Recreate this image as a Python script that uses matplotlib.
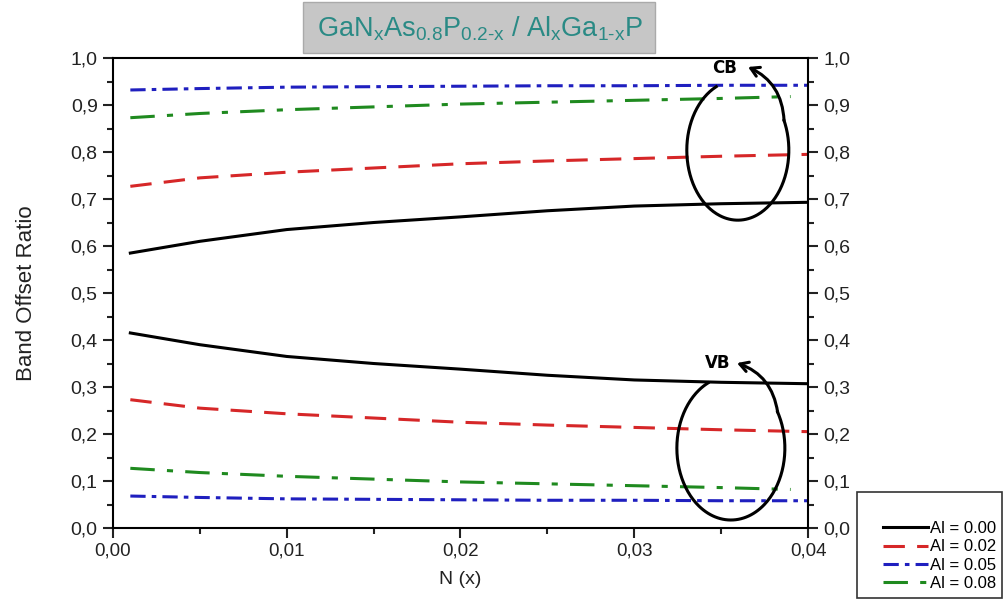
import numpy as np
import matplotlib
matplotlib.use("Agg")
import matplotlib.pyplot as plt
from matplotlib.patches import Rectangle
from matplotlib.ticker import MultipleLocator, FuncFormatter

plt.rcParams['font.family'] = ['Liberation Sans', 'DejaVu Sans']
plt.rcParams['mathtext.fontset'] = 'custom'
plt.rcParams['mathtext.rm'] = 'Liberation Sans'

# nitrogen content and band offset ratios (CB upper branch, VB lower branch)
n_x = [0.001, 0.005, 0.010, 0.015, 0.020, 0.025, 0.030, 0.035, 0.040]
cb_al000 = [0.585, 0.610, 0.635, 0.650, 0.662, 0.675, 0.685, 0.690, 0.693]
cb_al002 = [0.727, 0.745, 0.757, 0.766, 0.775, 0.781, 0.786, 0.791, 0.795]
cb_al005 = [0.932, 0.935, 0.938, 0.939, 0.940, 0.941, 0.941, 0.942, 0.942]
cb_al008 = [0.873, 0.882, 0.890, 0.896, 0.902, 0.906, 0.910, 0.914, 0.918]
vb_al000 = [0.415, 0.390, 0.365, 0.350, 0.338, 0.325, 0.315, 0.310, 0.307]
vb_al002 = [0.273, 0.255, 0.243, 0.234, 0.225, 0.219, 0.214, 0.209, 0.205]
vb_al005 = [0.068, 0.065, 0.062, 0.061, 0.060, 0.059, 0.059, 0.058, 0.058]
vb_al008 = [0.127, 0.118, 0.110, 0.104, 0.098, 0.094, 0.090, 0.086, 0.082]

labels = ['Al = 0.00', 'Al = 0.02', 'Al = 0.05', 'Al = 0.08']
colors = ['black', '#d62728', '#1f1fbf', '#1f8a1f']
styles = ['-', (0, (7, 4)), (0, (5, 2, 1.5, 2)), (0, (8, 4, 2, 4))]

fig = plt.figure(figsize=(10.05, 6.0), dpi=100)
ax = fig.add_axes([0.1124, 0.12, 0.6916, 0.7833])

cb = [cb_al000, cb_al002, cb_al005, cb_al008]
vb = [vb_al000, vb_al002, vb_al005, vb_al008]
handles = []
for i in range(4):
    xs = n_x if i != 3 else n_x[:-1] + [0.039]
    h, = ax.plot(xs, cb[i], color=colors[i], linestyle=styles[i], lw=2.2)
    ax.plot(xs, vb[i], color=colors[i], linestyle=styles[i], lw=2.2)
    handles.append(h)

ax.set_xlim(0, 0.04)
ax.set_ylim(0, 1.0)
ax.xaxis.set_major_locator(MultipleLocator(0.01))
ax.xaxis.set_minor_locator(MultipleLocator(0.005))
ax.yaxis.set_major_locator(MultipleLocator(0.1))
ax.yaxis.set_minor_locator(MultipleLocator(0.05))
ax.xaxis.set_major_formatter(FuncFormatter(lambda v, p: ('%.2f' % v).replace('.', ',')))
ax.yaxis.set_major_formatter(FuncFormatter(lambda v, p: ('%.1f' % v).replace('.', ',')))
ax.tick_params(which='both', direction='out', width=1.5, colors='#222222',
               left=True, right=True, labelright=True, top=False)
ax.tick_params(axis='x', labelsize=13.5)
ax.tick_params(axis='y', labelsize=14, pad=4)
ax.tick_params(which='major', length=7)
ax.tick_params(which='minor', length=4)
for s in ax.spines.values():
    s.set_linewidth(1.5)

ax.set_xlabel('N (x)', fontsize=14, color='#222222', labelpad=8)
ax.set_ylabel('Band Offset Ratio', fontsize=16, color='#222222', labelpad=24)


def loop_arrow(cx, cy, rx, ry, tip, t0=115, t1=385):
    # open loop drawn in axes fraction, closed off by a curved arrow
    t = np.radians(np.linspace(t0, t1, 200))
    ax.plot(cx + rx * np.cos(t), cy + ry * np.sin(t), color='black', lw=2.2,
            transform=ax.transAxes, clip_on=False)
    end = (cx + rx * np.cos(t[-1]), cy + ry * np.sin(t[-1]))
    ax.annotate('', xy=tip, xytext=end, xycoords='axes fraction', textcoords='axes fraction',
                arrowprops=dict(arrowstyle='->,head_length=0.6,head_width=0.35', lw=2.2,
                                color='black', shrinkA=0, shrinkB=0,
                                connectionstyle='arc3,rad=0.3'))


loop_arrow(0.899, 0.804, 0.0734, 0.149, (0.9137, 0.981))
ax.text(0.8806, 0.979, 'CB', transform=ax.transAxes, fontsize=12, fontweight='bold',
        family='DejaVu Sans', ha='center', va='center')
loop_arrow(0.889, 0.170, 0.0777, 0.153, (0.8978, 0.351), t1=390)
ax.text(0.870, 0.351, 'VB', transform=ax.transAxes, fontsize=12, fontweight='bold',
        family='DejaVu Sans', ha='center', va='center')

# title box
fig.patches.append(Rectangle((303 / 1005, 1 - 53 / 600), 352 / 1005, 51 / 600,
                             transform=fig.transFigure, facecolor='#c6c6c6',
                             edgecolor='#aaaaaa', lw=1))
fig.text(0.4776, 0.952,
         r'GaN$_{\rm x}$As$_{\rm 0.8}$P$_{\rm 0.2\text{-}x}$ / Al$_{\rm x}$Ga$_{\rm 1\text{-}x}$P',
         fontsize=19.5, color='#2a8a85', ha='center', va='center')

# legend frame, taller than the entries
fig.patches.append(Rectangle((857 / 1005, 2 / 600), 145 / 1005, 106 / 600,
                             transform=fig.transFigure, facecolor='white',
                             edgecolor='#333333', lw=1.2))
fig.legend(handles, labels, loc='lower right', bbox_to_anchor=(996 / 1005, 9 / 600),
           fontsize=12, handlelength=2.7, handletextpad=0.1, frameon=False,
           borderaxespad=0, borderpad=0, labelspacing=0.2)

fig.savefig('out.png', dpi=100)
